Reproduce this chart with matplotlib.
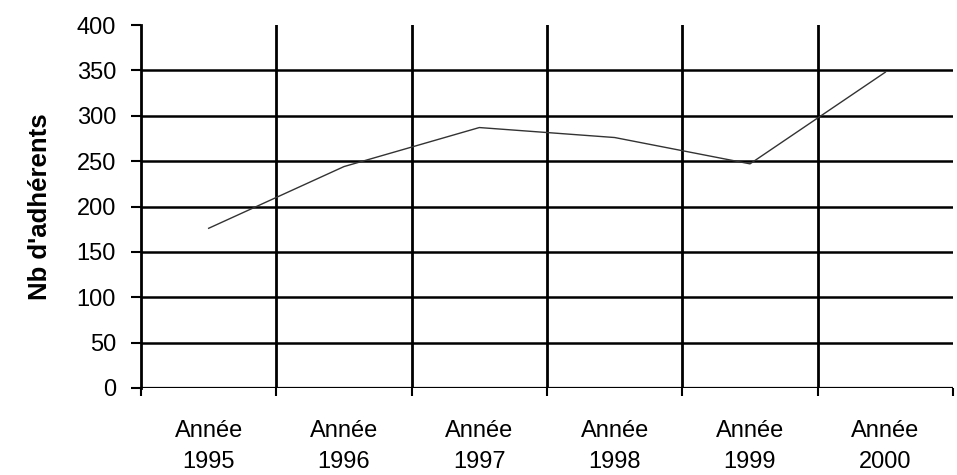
import numpy as np
import matplotlib.pyplot as plt

plt.rcParams['font.family'] = ['Liberation Sans', 'DejaVu Sans']

# Data
years = ['1995', '1996', '1997', '1998', '1999', '2000']
adherents = [176, 244, 287, 276, 247, 348]
yticks = [0, 50, 100, 150, 200, 250, 300, 350, 400]

fig = plt.figure(figsize=(9.57, 4.75), dpi=100)
ax = fig.add_axes([141/957, 1 - 388/475, 812/957, 363/475])

x = np.arange(len(years)) + 0.5

# horizontal grid lines (no line at the top value)
for v in yticks[1:-1]:
    ax.axhline(v, color='black', lw=1.8, zorder=1)
ax.axhline(0, color='black', lw=1.6, zorder=1)

# vertical separators between categories
for b in range(1, len(years)):
    ax.axvline(b, color='black', lw=2.0, zorder=1)

ax.plot(x, adherents, color='#333333', lw=1.0, zorder=3)

ax.set_xlim(0, len(years))
ax.set_ylim(0, 400)
ax.set_yticks(yticks)
ax.set_yticklabels([str(v) for v in yticks], fontsize=17)

ax.set_xticks(np.arange(len(years) + 1))
ax.set_xticklabels([])
ax.set_xticks(x, minor=True)
ax.set_xticklabels(['Année\n' + y for y in years], minor=True, fontsize=17,
                   linespacing=1.55)
ax.tick_params(axis='x', which='major', length=6, width=1.5)
ax.tick_params(axis='x', which='minor', length=0, pad=23)
ax.tick_params(axis='y', length=7, width=1.5, pad=11)

for s in ['top', 'right']:
    ax.spines[s].set_visible(False)
ax.spines['left'].set_linewidth(2)
ax.spines['bottom'].set_visible(False)

ax.set_ylabel("Nb d'adhérents", fontsize=18.5, fontweight='bold', labelpad=18)

fig.savefig('out.png', dpi=100)
